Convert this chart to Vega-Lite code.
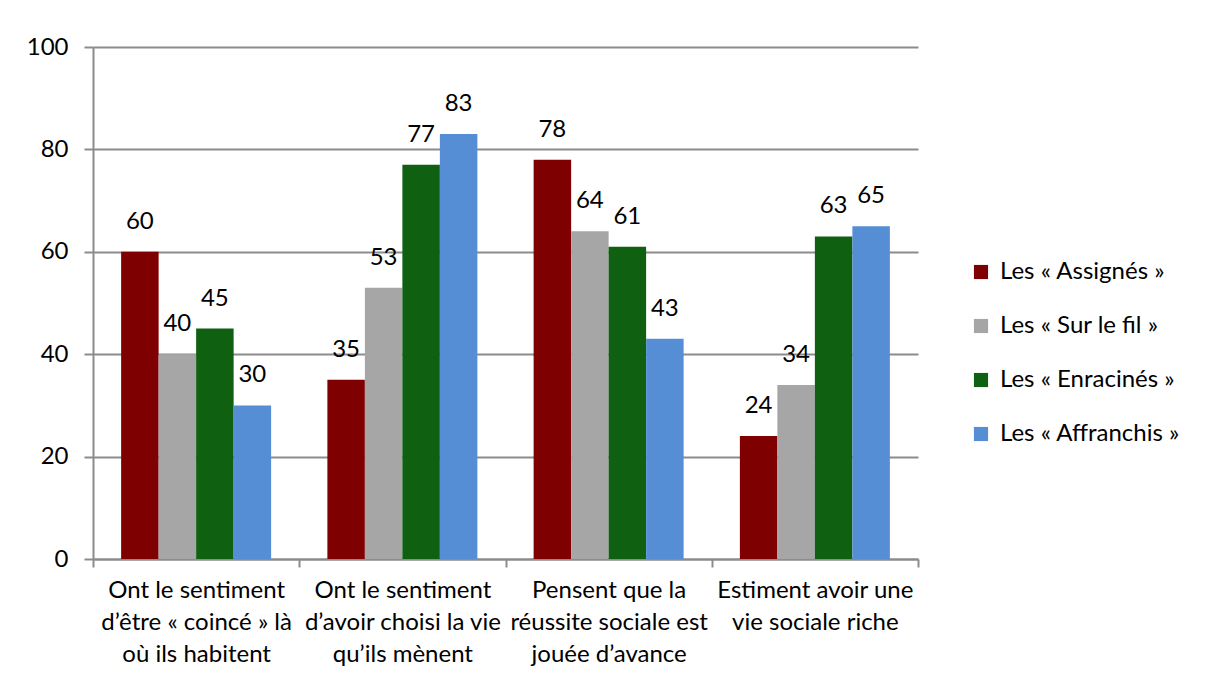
{
  "$schema": "https://vega.github.io/schema/vega-lite/v6.json",
  "width": 825,
  "height": 512,
  "autosize": "none",
  "padding": {"left": 93, "top": 47, "right": 287, "bottom": 127},
  "background": "white",
  "config": {
    "view": {"stroke": null},
    "font": "Lato",
    "axis": {"labelFont": "Lato", "labelColor": "#000000"},
    "legend": {"labelFont": "Lato"}
  },
  "data": {
    "values": [
      {"question": "Ont le sentiment|d’être « coincé » là|où ils habitent", "groupe": "Les « Assignés »", "value": 60},
      {"question": "Ont le sentiment|d’être « coincé » là|où ils habitent", "groupe": "Les « Sur le fil »", "value": 40},
      {"question": "Ont le sentiment|d’être « coincé » là|où ils habitent", "groupe": "Les « Enracinés »", "value": 45},
      {"question": "Ont le sentiment|d’être « coincé » là|où ils habitent", "groupe": "Les « Affranchis »", "value": 30},
      {"question": "Ont le sentiment|d’avoir choisi la vie|qu’ils mènent", "groupe": "Les « Assignés »", "value": 35},
      {"question": "Ont le sentiment|d’avoir choisi la vie|qu’ils mènent", "groupe": "Les « Sur le fil »", "value": 53},
      {"question": "Ont le sentiment|d’avoir choisi la vie|qu’ils mènent", "groupe": "Les « Enracinés »", "value": 77},
      {"question": "Ont le sentiment|d’avoir choisi la vie|qu’ils mènent", "groupe": "Les « Affranchis »", "value": 83},
      {"question": "Pensent que la|réussite sociale est|jouée d’avance", "groupe": "Les « Assignés »", "value": 78},
      {"question": "Pensent que la|réussite sociale est|jouée d’avance", "groupe": "Les « Sur le fil »", "value": 64},
      {"question": "Pensent que la|réussite sociale est|jouée d’avance", "groupe": "Les « Enracinés »", "value": 61},
      {"question": "Pensent que la|réussite sociale est|jouée d’avance", "groupe": "Les « Affranchis »", "value": 43},
      {"question": "Estiment avoir une|vie sociale riche", "groupe": "Les « Assignés »", "value": 24},
      {"question": "Estiment avoir une|vie sociale riche", "groupe": "Les « Sur le fil »", "value": 34},
      {"question": "Estiment avoir une|vie sociale riche", "groupe": "Les « Enracinés »", "value": 63},
      {"question": "Estiment avoir une|vie sociale riche", "groupe": "Les « Affranchis »", "value": 65}
    ]
  },
  "encoding": {
    "x": {
      "field": "question",
      "type": "nominal",
      "sort": null,
      "scale": {"paddingInner": 0, "paddingOuter": 0},
      "axis": {
        "title": null,
        "labelAngle": 0,
        "labelExpr": "split(datum.label, '|')",
        "labelFontSize": 24,
        "labelLineHeight": 32,
        "labelPadding": 11,
        "labelBaseline": "top",
        "tickBand": "extent",
        "tickSize": 8,
        "tickWidth": 2,
        "tickColor": "#8c8c8c",
        "domainColor": "#8c8c8c",
        "domainWidth": 2,
        "labelOverlap": false,
        "labelLimit": 0
      }
    },
    "xOffset": {
      "field": "groupe",
      "type": "nominal",
      "sort": ["Les « Assignés »", "Les « Sur le fil »", "Les « Enracinés »", "Les « Affranchis »"],
      "scale": {"paddingInner": 0, "paddingOuter": 0.75}
    },
    "y": {
      "field": "value",
      "type": "quantitative",
      "scale": {"domain": [0, 100]},
      "axis": {
        "title": null,
        "values": [0, 20, 40, 60, 80, 100],
        "labelFontSize": 24,
        "labelPadding": 16,
        "tickSize": 9,
        "tickWidth": 2,
        "tickColor": "#8c8c8c",
        "domainColor": "#8c8c8c",
        "domainWidth": 2,
        "grid": true,
        "gridColor": "#8c8c8c",
        "gridWidth": 2
      }
    }
  },
  "layer": [
    {
      "mark": {"type": "bar", "binSpacing": 0},
      "encoding": {
        "color": {
          "field": "groupe",
          "type": "nominal",
          "scale": {
            "domain": ["Les « Assignés »", "Les « Sur le fil »", "Les « Enracinés »", "Les « Affranchis »"],
            "range": ["#7f0000", "#a6a6a6", "#0f6010", "#558ed5"]
          },
          "legend": {
            "title": null,
            "orient": "none",
            "legendX": 876,
            "legendY": 213,
            "symbolType": "square",
            "symbolSize": 200,
            "symbolStrokeWidth": 0,
            "labelFontSize": 24,
            "labelOffset": 7,
            "labelLimit": 0,
            "rowPadding": 30,
            "labelColor": "#000000"
          }
        }
      }
    },
    {
      "mark": {"type": "text", "fontSize": 24, "baseline": "alphabetic", "dy": -23, "color": "#000000"},
      "encoding": {
        "text": {"field": "value", "type": "quantitative"}
      }
    }
  ]
}
